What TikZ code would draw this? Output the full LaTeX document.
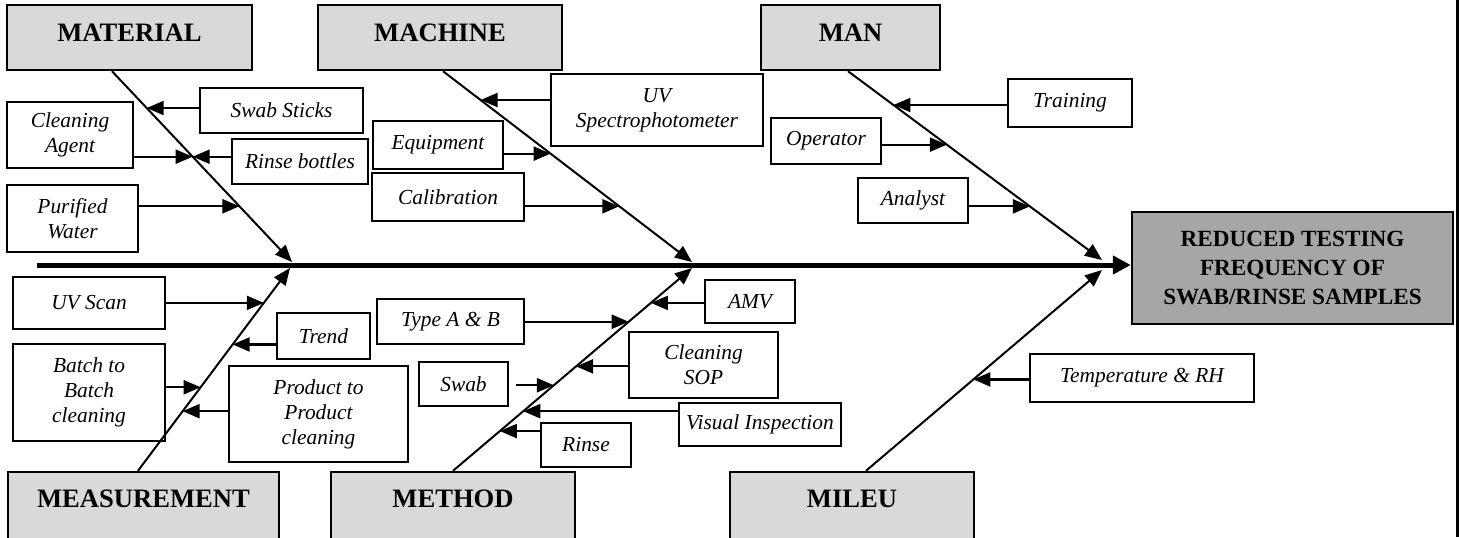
\documentclass[tikz,border=0pt]{standalone}
\usepackage{fontspec}
\setmainfont{Liberation Serif}
\usetikzlibrary{positioning, shapes, arrows, calc, arrows.meta}

\definecolor{causegray}{RGB}{217,217,217}
\definecolor{effectgray}{RGB}{166,166,166}

\begin{document}
\begin{tikzpicture}[x=0.5pt, y=-0.5pt,
        cause/.style={rectangle, draw, line width=1.2pt, fill=causegray, align=center, font=\fontsize{13.3}{16}\selectfont\bfseries},
        causetop/.style={cause, minimum height=32.5pt, text depth=4.5pt},
        causebot/.style={cause, minimum height=36pt, text depth=9pt},
        item/.style={rectangle, draw, line width=1pt, fill=white, align=center, inner sep=2pt, font=\fontsize{10.7}{12.5}\selectfont\itshape},
        effect/.style={rectangle, draw, line width=1.2pt, fill=effectgray, align=center, font=\fontsize{11.6}{14.5}\selectfont\bfseries},
        bone/.style={line width=1pt, -{Triangle[length=8.5pt, width=7pt]}},
        feed/.style={line width=1.1pt, -{Triangle[length=8.5pt, width=7pt]}},
        spine/.style={line width=2.5pt, -{Triangle[length=9pt, width=9pt]}}]
        \clip (0,0) rectangle (1459,537);

        %-----Categories-----

        % Material Category
        \node [causetop, minimum width=122.5pt] (mat) at (129.5,37.5) {MATERIAL};

        % Machine Category
        \node [causetop, minimum width=122pt] (mac) at (440,37.5) {MACHINE};

        % Man Category
        \node [causetop, minimum width=89.5pt] (man) at (850.5,37.5) {MAN};

        % Measurement Category
        \node [causebot, minimum width=135.5pt] (mea) at (143.5,508) {MEASUREMENT};

        % Method Category
        \node [causebot, minimum width=122pt] (met) at (453,508) {METHOD};

        % Mileu Category
        \node [causebot, minimum width=122pt] (mil) at (852,508) {MILEU};

        % Effect
        \node [effect, minimum width=160.5pt, minimum height=56pt] (res) at (1292.5,268) {%
            REDUCED TESTING \\
            FREQUENCY OF \\
            SWAB/RINSE SAMPLES
        };

        %-----Causes-----

        % Material Causes
        \node [item, minimum width=81.5pt, minimum height=22.5pt] (swst) at (281.5,110.5) {Swab Sticks};
        \node [item, minimum width=63pt, minimum height=33pt] (clag) at (70,135) {Cleaning \\ Agent};
        \node [item, minimum width=68pt, minimum height=22.5pt] (rnbt) at (300,161.5) {Rinse bottles};
        \node [item, minimum width=65.5pt, minimum height=33.5pt] (puwa) at (72.5,218.5) {Purified \\ Water};

        % Machine Causes
        \node [item, minimum width=106pt, minimum height=36pt] (uvsp) at (657,110) {UV \\ Spectrophotometer};
        \node [item, minimum width=65pt, minimum height=24pt] (equi) at (438,145) {Equipment};
        \node [item, minimum width=76pt, minimum height=24pt] (cali) at (448,197) {Calibration};

        % Man Causes
        \node [item, minimum width=62pt, minimum height=24pt] (trai) at (1070,103) {Training};
        \node [item, minimum width=55pt, minimum height=23pt] (oper) at (826,141) {Operator};
        \node [item, minimum width=55pt, minimum height=22.5pt] (anal) at (913,200.5) {Analyst};

        % Measurement Causes
        \node [item, minimum width=76pt, minimum height=26pt] (uvsc) at (89,303) {UV Scan};
        \node [item, minimum width=46.5pt, minimum height=23pt] (tren) at (323.5,336) {Trend};
        \node [item, minimum width=76pt, minimum height=48.5pt] (btob) at (89,392.5) {Batch to \\ Batch \\ cleaning};
        \node [item, minimum width=89.5pt, minimum height=48pt] (ptop) at (318.5,414) {Product to \\ Product \\ cleaning};

        % Method Causes
        \node [item, minimum width=73.5pt, minimum height=22.5pt] (tyab) at (450.5,321.5) {Type A \& B};
        \node [item, minimum width=45pt, minimum height=21.5pt] (amv) at (750,301.5) {AMV};
        \node [item, minimum width=74.5pt, minimum height=33pt] (csop) at (703.5,365) {Cleaning \\ SOP};
        \node [item, minimum width=44.5pt, minimum height=22pt] (swab) at (463.5,384) {Swab};
        \node [item, minimum width=81pt, minimum height=21.5pt] (visi) at (760,424.5) {Visual Inspection};
        \node [item, minimum width=45pt, minimum height=22pt] (rins) at (586,445) {Rinse};

        % Mileu Causes
        \node [item, minimum width=112pt, minimum height=24pt] (temp) at (1142,378) {Temperature \& RH};

        %-----Spine and Bones-----

        % Spine to Effect
        \coordinate (axL) at (37,265);
        \draw[spine] (axL) -- (axL -| res.west);

        % Bone ends on the spine
        \coordinate (matS) at ($(mat.south)+(-17.5,0)$);
        \coordinate (matE) at (292,262);
        \coordinate (macS) at ($(mac.south)+(3,0)$);
        \coordinate (macE) at (692,262);
        \coordinate (manS) at ($(man.south)+(-2.5,0)$);
        \coordinate (manE) at (1102,260);
        \coordinate (meaS) at ($(mea.north)+(-5.5,0)$);
        \coordinate (meaE) at (290,268);
        \coordinate (metS) at (met.north);
        \coordinate (metE) at (692,268);
        \coordinate (milS) at ($(mil.north)+(14,0)$);
        \coordinate (milE) at (1102,270);

        \draw[bone] (matS) -- (matE);
        \draw[bone] (macS) -- (macE);
        \draw[bone] (manS) -- (manE);
        \draw[bone] (meaS) -- (meaE);
        \draw[bone] (metS) -- (metE);
        \draw[bone] (milS) -- (milE);

        %-----Causes to Bones-----

        % Connect Material Causes
        \draw[feed] (swst.west |- {$(matS)!0.193!(matE)$}) -- ($(matS)!0.193!(matE)$);
        \draw[feed] (clag.east |- {$(matS)!0.448!(matE)$}) -- ($(matS)!0.448!(matE)$);
        \draw[feed] (rnbt.west |- {$(matS)!0.448!(matE)$}) -- ($(matS)!0.448!(matE)$);
        \draw[feed] (puwa.east |- {$(matS)!0.708!(matE)$}) -- ($(matS)!0.708!(matE)$);

        % Connect Machine Causes
        \draw[feed] (uvsp.west |- {$(macS)!0.151!(macE)$}) -- ($(macS)!0.151!(macE)$);
        \draw[feed] (equi.east |- {$(macS)!0.432!(macE)$}) -- ($(macS)!0.432!(macE)$);
        \draw[feed] (cali.east |- {$(macS)!0.708!(macE)$}) -- ($(macS)!0.708!(macE)$);

        % Connect Man Causes
        \draw[feed] (trai.west |- {$(manS)!0.179!(manE)$}) -- ($(manS)!0.179!(manE)$);
        \draw[feed] (oper.east |- {$(manS)!0.389!(manE)$}) -- ($(manS)!0.389!(manE)$);
        \draw[feed] (anal.east |- {$(manS)!0.716!(manE)$}) -- ($(manS)!0.716!(manE)$);

        % Connect Measurement Causes
        \draw[feed] (uvsc.east |- {$(meaS)!0.828!(meaE)$}) -- ($(meaS)!0.828!(meaE)$);
        \draw[feed] (tren.west |- {$(meaS)!0.623!(meaE)$}) -- ($(meaS)!0.623!(meaE)$);
        \draw[feed] (btob.east |- {$(meaS)!0.412!(meaE)$}) -- ($(meaS)!0.412!(meaE)$);
        \draw[feed] (ptop.west |- {$(meaS)!0.294!(meaE)$}) -- ($(meaS)!0.294!(meaE)$);

        % Connect Method Causes
        \draw[feed] (amv.west |- {$(metS)!0.828!(metE)$}) -- ($(metS)!0.828!(metE)$);
        \draw[feed] (tyab.east |- {$(metS)!0.735!(metE)$}) -- ($(metS)!0.735!(metE)$);
        \draw[feed] (csop.west |- {$(metS)!0.515!(metE)$}) -- ($(metS)!0.515!(metE)$);
        \draw[feed] ([xshift=3.5pt]swab.east |- {$(metS)!0.422!(metE)$}) -- ($(metS)!0.422!(metE)$);
        \draw[feed] (visi.west |- {$(metS)!0.294!(metE)$}) -- ($(metS)!0.294!(metE)$);
        \draw[feed] (rins.west |- {$(metS)!0.196!(metE)$}) -- ($(metS)!0.196!(metE)$);

        % Connect Mileu Causes
        \draw[feed] (temp.west |- {$(milS)!0.455!(milE)$}) -- ($(milS)!0.455!(milE)$);

        % Page edge on the right
        \draw[line width=1.5pt] (1457,0) -- (1457,537);
\end{tikzpicture}
\end{document}
